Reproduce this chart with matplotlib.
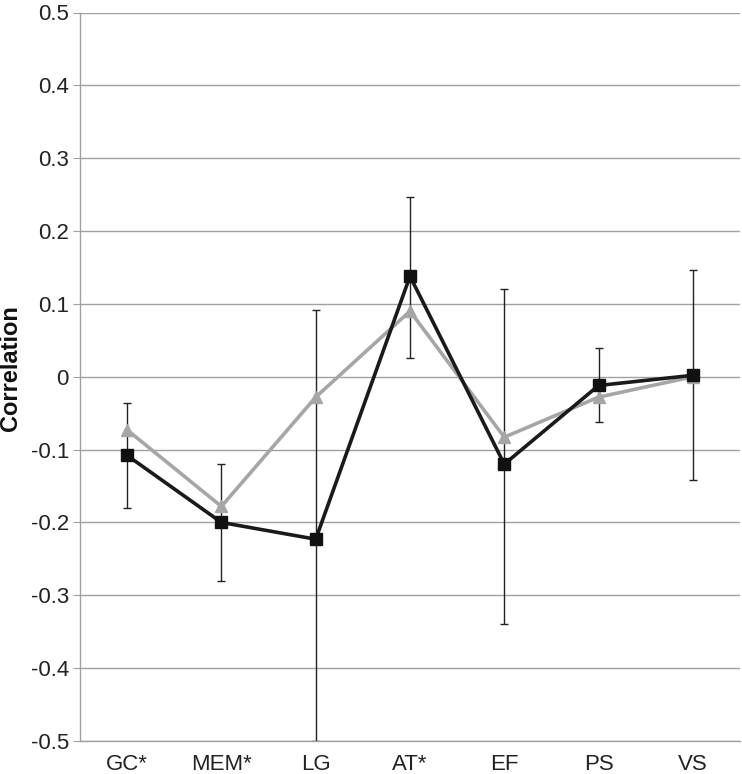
import matplotlib
matplotlib.use("Agg")
import matplotlib.pyplot as plt
import numpy as np

plt.rcParams['font.family'] = ['Liberation Sans', 'DejaVu Sans']

categories = ["GC*", "MEM*", "LG", "AT*", "EF", "PS", "VS"]
black_vals = [-0.108, -0.200, -0.223, 0.138, -0.120, -0.012, 0.002]
black_upper = [-0.036, -0.120, 0.092, 0.247, 0.120, 0.040, 0.146]
black_lower = [-0.180, -0.280, -0.500, 0.026, -0.340, -0.062, -0.142]
gray_vals = [-0.073, -0.178, -0.028, 0.090, -0.083, -0.028, 0.000]
yticks = [-0.5, -0.4, -0.3, -0.2, -0.1, 0, 0.1, 0.2, 0.3, 0.4, 0.5]
ytick_labels = ["-0.5", "-0.4", "-0.3", "-0.2", "-0.1", "0", "0.1", "0.2", "0.3", "0.4", "0.5"]

fig = plt.figure(figsize=(7.42, 7.74), dpi=100)
ax = fig.add_axes([80/742, 1 - 741/774, 660/742, (741 - 12.5)/774])

x = np.arange(len(categories))
bv = np.array(black_vals)
yerr = np.vstack([bv - np.array(black_lower), np.array(black_upper) - bv])

ax.errorbar(x, bv, yerr=yerr, fmt='none', ecolor='#222222', elinewidth=1.0,
            capsize=2.6, capthick=1.0, zorder=2)
ax.plot(x, black_vals, color='#1a1a1a', lw=2.6, marker='s', markersize=9,
        markerfacecolor='#111111', markeredgecolor='#111111', zorder=4)
ax.plot(x, gray_vals, color='#a6a6a6', lw=2.6, marker='^', markersize=9,
        markerfacecolor='#a6a6a6', markeredgecolor='#a6a6a6', zorder=3)

ax.set_xlim(-0.5, len(categories) - 0.5)
ax.set_ylim(-0.5, 0.5)
ax.set_yticks(yticks)
ax.set_yticklabels(ytick_labels)
ax.set_xticks(x)
ax.set_xticklabels(categories)
ax.yaxis.grid(True, color='#a0a0a0', lw=1.0)
ax.set_axisbelow(True)
for s in ['top', 'right']:
    ax.spines[s].set_visible(False)
for s in ['left', 'bottom']:
    ax.spines[s].set_color('#a0a0a0')
    ax.spines[s].set_linewidth(1.0)
ax.tick_params(axis='y', length=5, color='#a0a0a0', labelsize=16, pad=3, labelcolor='#222222')
ax.tick_params(axis='x', length=0, labelsize=16, pad=9, labelcolor='#222222')
fig.text(11/742, 1 - 368/774, "Correlation", rotation=90, ha='center', va='center',
         fontsize=17, fontweight='bold', color='#111111')

fig.savefig("out.png", dpi=100)
